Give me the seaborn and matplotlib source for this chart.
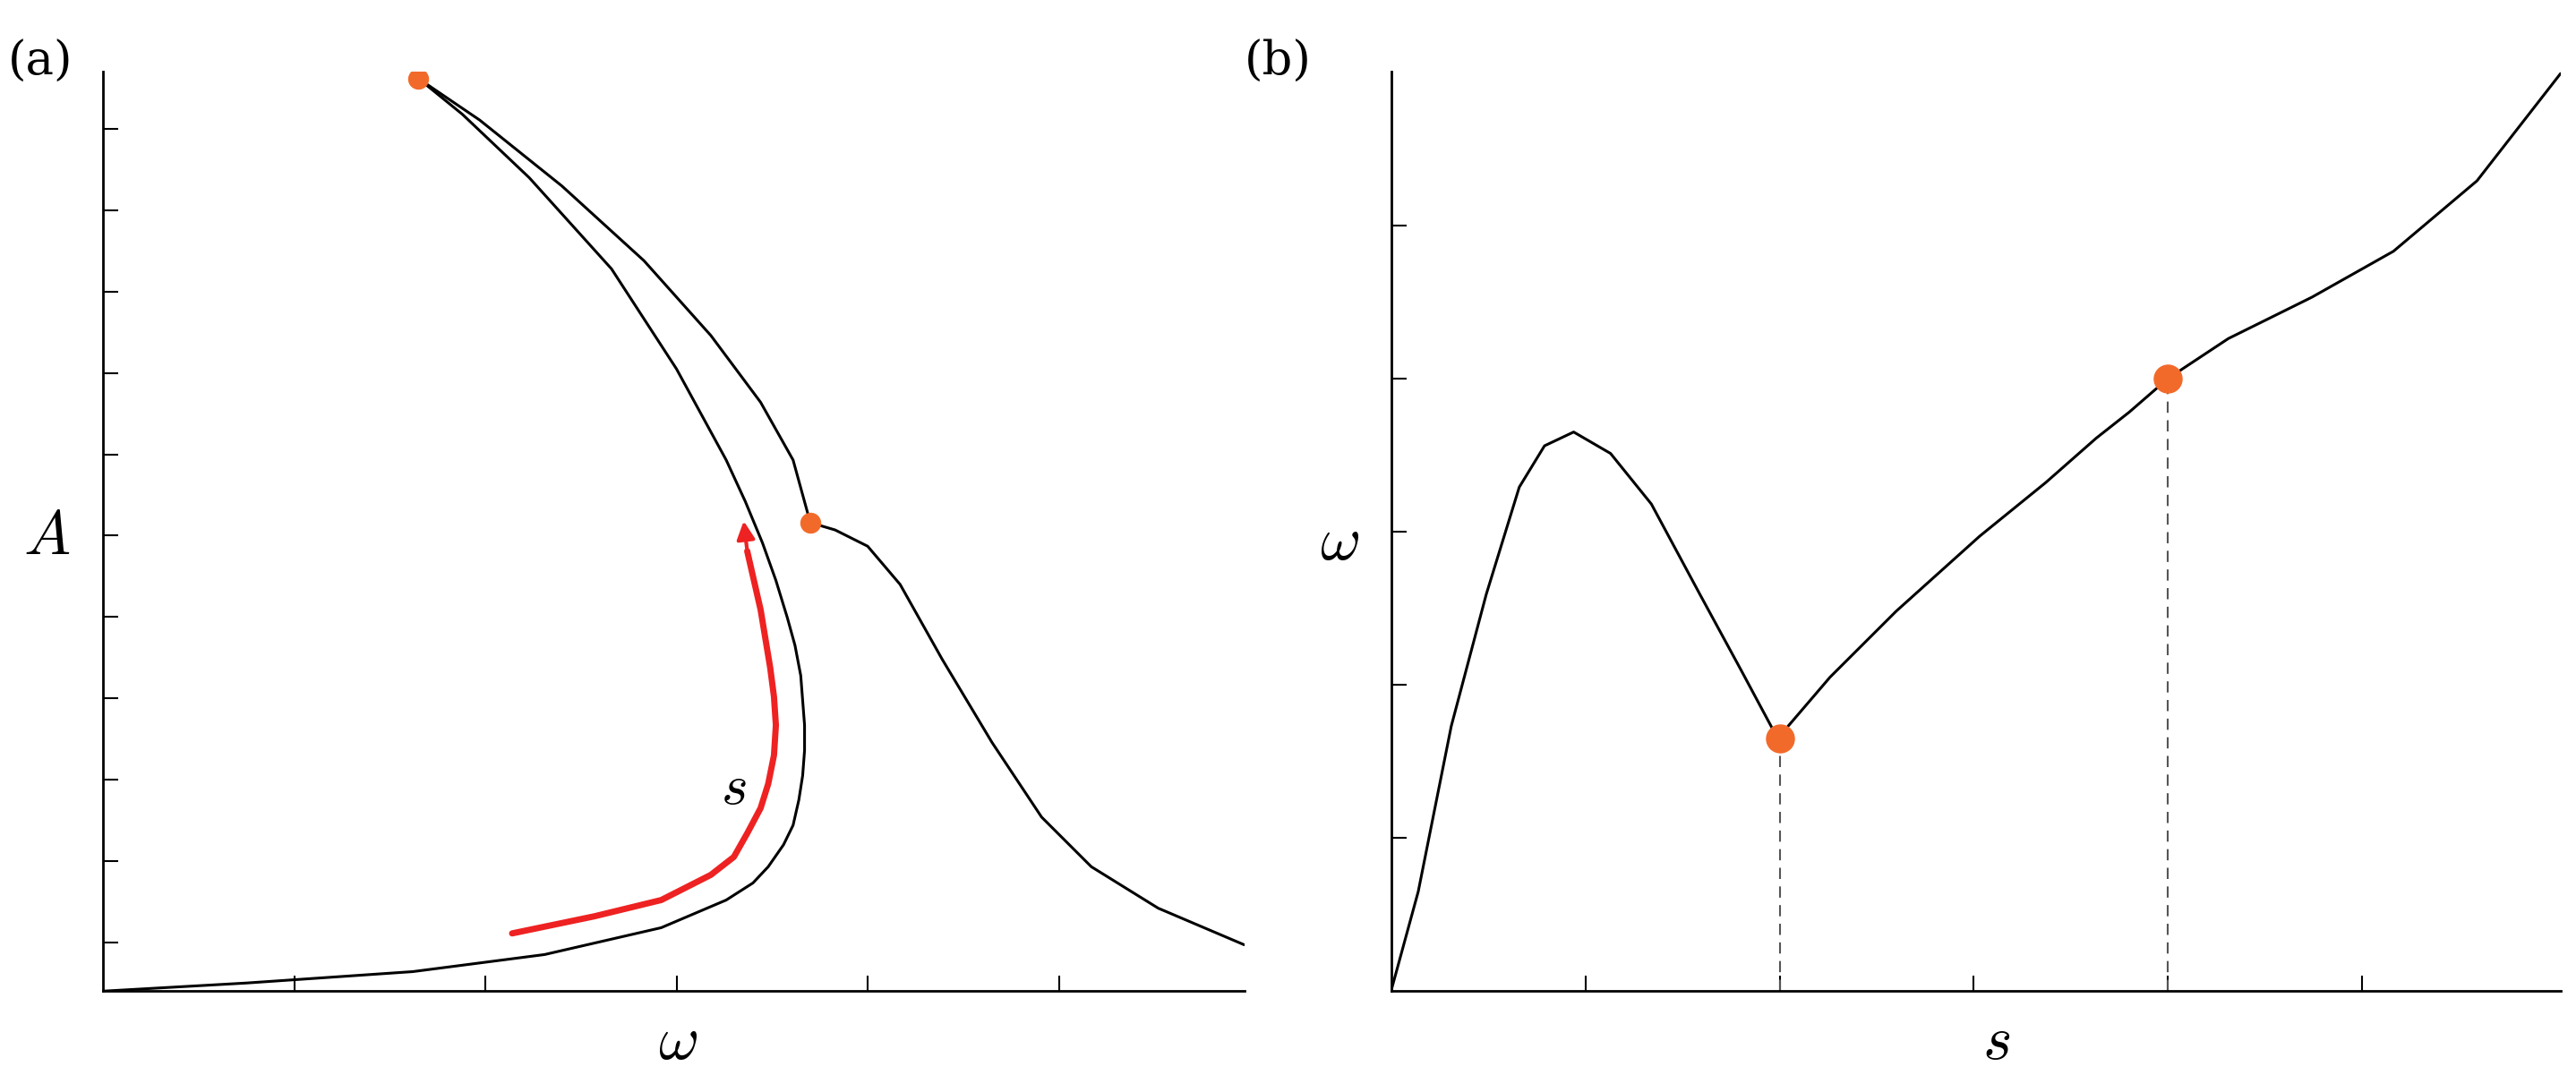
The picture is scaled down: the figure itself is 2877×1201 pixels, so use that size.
import matplotlib
matplotlib.use("Agg")
import matplotlib.pyplot as plt
import seaborn as sns

sns.set_theme(style="white")
plt.rcParams["mathtext.fontset"] = "cm"

# panel (a): fold curve A(omega)
lower_w = [0, 0.75, 1.62, 2.31, 2.92, 3.26, 3.40, 3.48, 3.56, 3.61, 3.64, 3.66, 3.67, 3.67, 3.65, 3.62,
           3.58, 3.52, 3.45, 3.36, 3.26, 3.00, 2.66, 2.23, 1.88, 1.65]
lower_A = [0, 0.10, 0.24, 0.45, 0.78, 1.12, 1.33, 1.53, 1.80, 2.04, 2.35, 2.65, 2.96, 3.27, 3.88, 4.25,
           4.59, 5.05, 5.51, 6.02, 6.53, 7.65, 8.88, 10.0, 10.78, 11.22]
upper_w = [1.65, 1.97, 2.40, 2.83, 3.18, 3.44, 3.61, 3.70, 3.83, 4.00, 4.17, 4.39, 4.65, 4.91, 5.17, 5.52, 5.97]
upper_A = [11.22, 10.71, 9.90, 8.98, 8.06, 7.24, 6.53, 5.76, 5.67, 5.47, 5.0, 4.08, 3.06, 2.14, 1.53, 1.02, 0.57]
arrow_w = [2.14, 2.57, 2.92, 3.18, 3.30, 3.37, 3.44, 3.48, 3.51, 3.52, 3.51, 3.49, 3.44, 3.37]
arrow_A = [0.71, 0.92, 1.12, 1.43, 1.65, 1.94, 2.25, 2.55, 2.90, 3.27, 3.62, 3.98, 4.69, 5.41]
dots_a_w = [1.65, 3.70]
dots_a_A = [11.22, 5.76]

# panel (b): omega(s)
s_vals = [0, 0.14, 0.31, 0.49, 0.66, 0.79, 0.94, 1.13, 1.34, 1.59, 1.80, 1.99, 2.26, 2.60, 3.03, 3.37,
          3.63, 3.80, 4.0, 4.31, 4.74, 5.16, 5.59, 6.02]
w_vals = [0, 0.65, 1.73, 2.59, 3.29, 3.56, 3.65, 3.51, 3.18, 2.59, 2.10, 1.65, 2.05, 2.48, 2.97, 3.32,
          3.61, 3.78, 4.0, 4.26, 4.53, 4.83, 5.29, 5.99]
dots_b_s = [2.0, 4.0]
dots_b_w = [1.65, 4.0]

orange = "#f26a2a"
fig = plt.figure(figsize=(28.77, 12.01), dpi=100)
ax1 = fig.add_axes([0.040, 0.078, 0.443, 0.855])
ax2 = fig.add_axes([0.540, 0.078, 0.454, 0.855])

for ax in (ax1, ax2):
    sns.despine(ax=ax)
    for sp in ("left", "bottom"):
        ax.spines[sp].set_color("black")
        ax.spines[sp].set_linewidth(2)
    ax.tick_params(direction="in", length=12, width=1.5, colors="black",
                   labelbottom=False, labelleft=False, left=True, bottom=True)

line_kw = dict(sort=False, estimator=None, errorbar=None, color="black", lw=2.2)
sns.lineplot(x=lower_w, y=lower_A, ax=ax1, **line_kw)
sns.lineplot(x=upper_w, y=upper_A, ax=ax1, **line_kw)
sns.lineplot(x=arrow_w, y=arrow_A, ax=ax1, sort=False, estimator=None, errorbar=None,
             color="#ee2222", lw=5)
ax1.annotate("", xy=(arrow_w[-1] - 0.02, arrow_A[-1] + 0.4), xytext=(arrow_w[-1], arrow_A[-1]),
             arrowprops=dict(arrowstyle="-|>", color="#ee2222", lw=3, mutation_scale=30))
ax1.scatter(dots_a_w, dots_a_A, s=250, color=orange, zorder=5)
ax1.text(3.30, 2.3, "$s$", fontsize=46, ha="center", color="black")
ax1.set_xlim(0, 5.97)
ax1.set_ylim(0, 11.3)
ax1.set_xticks([1, 2, 3, 4, 5])
ax1.set_yticks([0.6 + k for k in range(11)])
ax1.set_xlabel("")
ax1.set_ylabel("")

sns.lineplot(x=s_vals, y=w_vals, ax=ax2, **line_kw)
for s, w in zip(dots_b_s, dots_b_w):
    ax2.plot([s, s], [0, w], ls=(0, (6, 4)), color="#555555", lw=1.5)
ax2.scatter(dots_b_s, dots_b_w, s=500, color=orange, zorder=5)
ax2.set_xlim(0, 6.02)
ax2.set_ylim(0, 6.0)
ax2.set_xticks([1, 2, 3, 4, 5])
ax2.set_yticks([1, 2, 3, 4, 5])
ax2.set_xlabel("")
ax2.set_ylabel("")

fig.text(0.263, 0.015, r"$\omega$", fontsize=50, ha="center", color="black")
fig.text(0.018, 0.485, "$A$", fontsize=50, ha="center", color="black")
fig.text(0.775, 0.015, "$s$", fontsize=50, ha="center", color="black")
fig.text(0.520, 0.48, r"$\omega$", fontsize=50, ha="center", color="black")
fig.text(0.003, 0.93, "(a)", fontsize=38, family="serif", color="black")
fig.text(0.483, 0.93, "(b)", fontsize=38, family="serif", color="black")

fig.savefig("out.png", dpi=100, facecolor="white")
